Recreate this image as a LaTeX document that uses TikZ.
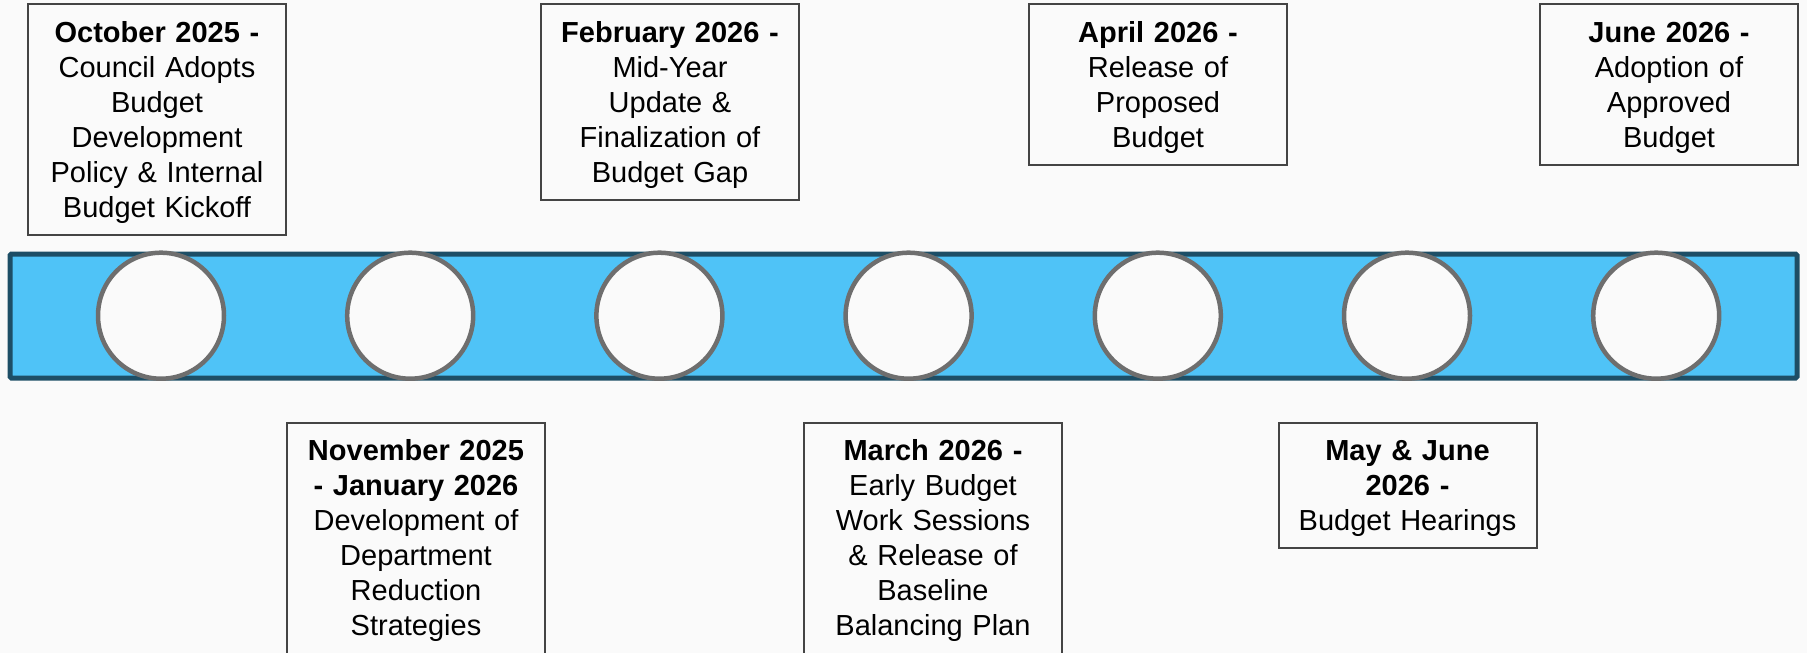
\documentclass[tikz,border=0pt]{standalone}
\usepackage{fontspec}
\setmainfont{Liberation Sans}
\definecolor{bgc}{HTML}{FAFAFA}
\definecolor{barfill}{HTML}{4FC3F7}
\definecolor{barline}{HTML}{1D4E66}
\definecolor{dotline}{HTML}{6E6E6E}
\definecolor{boxline}{HTML}{444444}
\tikzset{
  dot/.style={circle, draw=dotline, line width=4.5pt, fill=bgc, minimum size=126pt, inner sep=0pt},
  evbox/.style={rectangle, draw=boxline, line width=2pt, fill=bgc, minimum width=258pt, inner sep=0pt},
  evtext/.style={anchor=base, text width=254pt, align=center, inner sep=0pt, font=\fontsize{29}{35}\selectfont},
  bar/.style={rectangle, draw=barline, fill=barfill, line width=5pt, rounded corners=1.5pt, minimum width=1787pt, minimum height=124pt, inner sep=0pt}
}
\begin{document}
\begin{tikzpicture}[x=1pt,y=-1pt]
\clip (0,0) rectangle (1807,653);
\fill[bgc] (0,0) rectangle (1807,653);
% bar
\node[bar] (bar) at (903.5,316) {};
% circles
\foreach \i/\xx in {1/161,2/410.2,3/659.4,4/908.6,5/1157.8,6/1407,7/1656.2}{
  \node[dot] (c\i) at (\xx,315.7) {};
}
% top boxes
\node[evbox, minimum height=231pt] (b1) at (157,119.5) {};
\node[evtext] (t1) at (157,42) {\textbf{October 2025 -}\\Council Adopts\\Budget\\Development\\Policy \& Internal\\Budget Kickoff};
\node[evbox, minimum height=196pt] (b3) at (670,102) {};
\node[evtext] (t3) at (670,42) {\textbf{February 2026 -}\\Mid-Year\\Update \&\\Finalization of\\Budget Gap};
\node[evbox, minimum height=161pt] (b5) at (1158,84.5) {};
\node[evtext] (t5) at (1158,42) {\textbf{April 2026 -}\\Release of\\Proposed\\Budget};
\node[evbox, minimum height=161pt] (b7) at (1669,84.5) {};
\node[evtext] (t7) at (1669,42) {\textbf{June 2026 -}\\Adoption of\\Approved\\Budget};
% bottom boxes
\node[evbox, minimum height=240pt] (b2) at (416,543) {};
\node[evtext] (t2) at (416,460) {\textbf{November 2025}\\\textbf{- January 2026}\\Development of\\Department\\Reduction\\Strategies};
\node[evbox, minimum height=240pt] (b4) at (933,543) {};
\node[evtext] (t4) at (933,460) {\textbf{March 2026 -}\\Early Budget\\Work Sessions\\\& Release of\\Baseline\\Balancing Plan};
\node[evbox, minimum height=125pt] (b6) at (1407.5,485.5) {};
\node[evtext] (t6) at (1407.5,460) {\textbf{May \& June}\\\textbf{2026 -}\\Budget Hearings};
\end{tikzpicture}
\end{document}
